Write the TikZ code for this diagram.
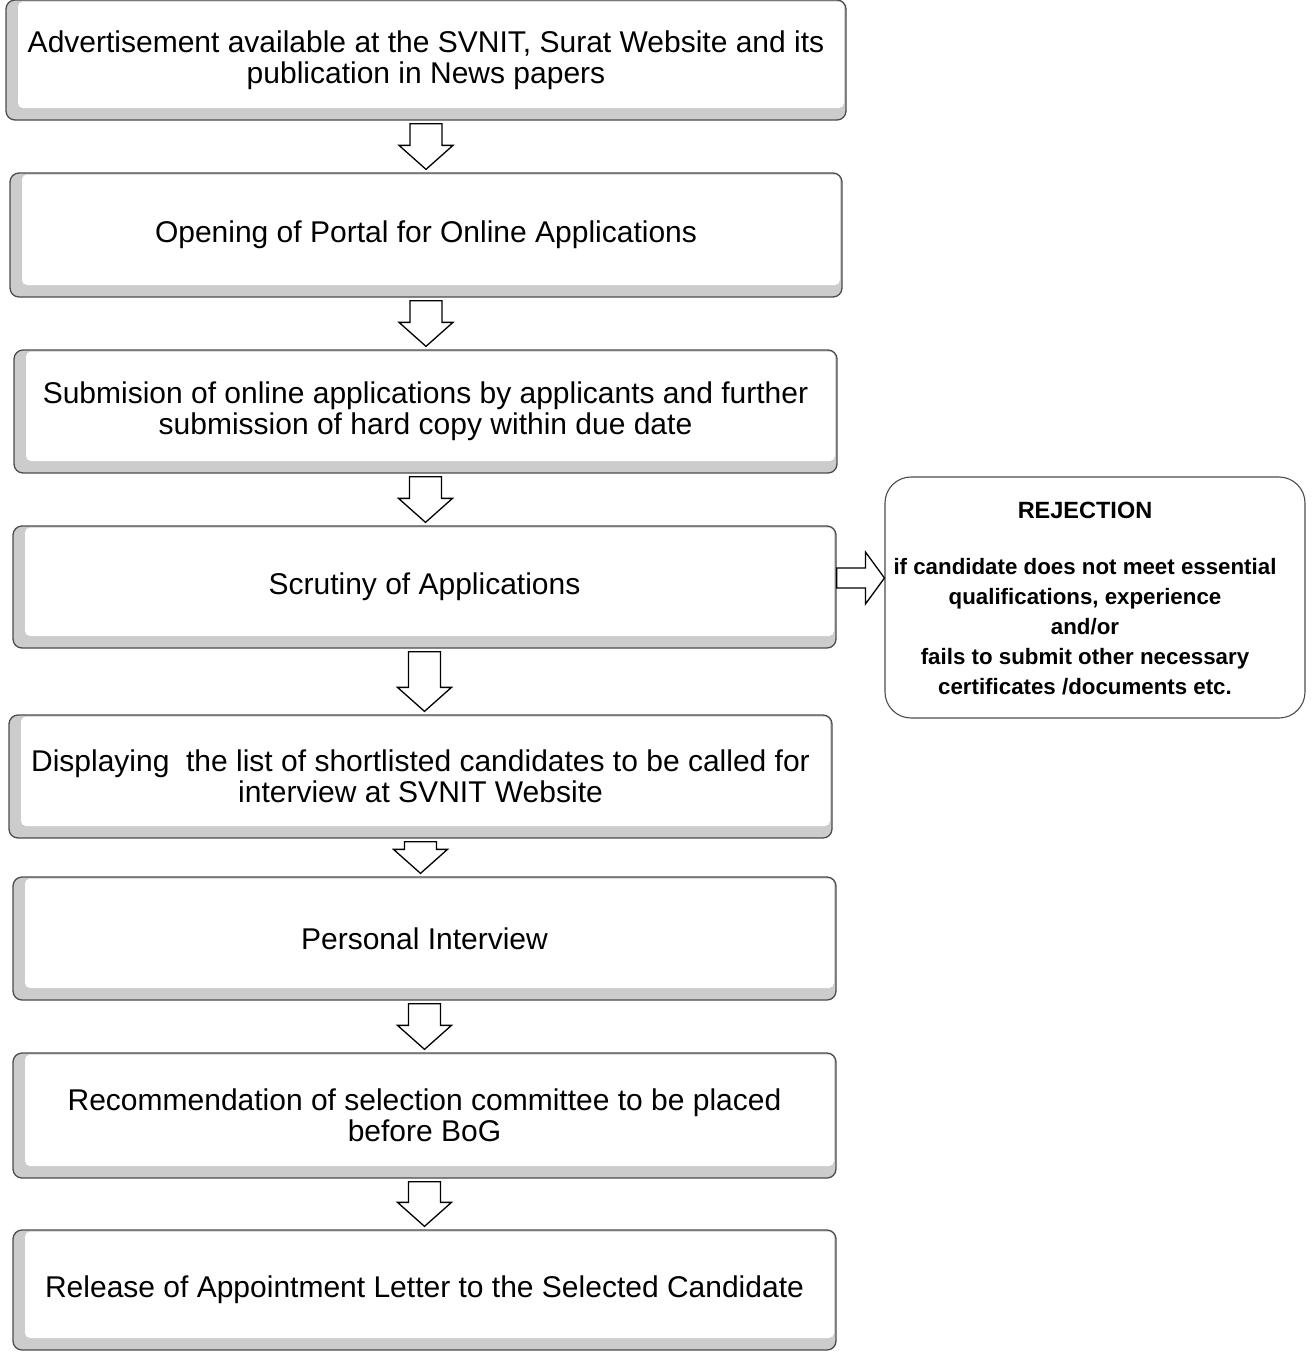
\documentclass[tikz,border=0pt]{standalone}
\usepackage{fontspec}
\setmainfont{Liberation Sans}
\usetikzlibrary{calc}
\tikzset{
  stepbox/.style={draw=black!70, line width=1.3pt, rounded corners=9pt, fill=black!20,
    minimum width=#1, inner sep=0pt, align=center,
    font=\fontsize{30}{31}\selectfont,
    path picture={
      \fill[white, rounded corners=5pt]
        ([xshift=12pt,yshift=12pt]path picture bounding box.south west)
        rectangle ([xshift=-2pt,yshift=-1.5pt]path picture bounding box.north east);
    }},
  rejframe/.style={draw=black!70, line width=1.1pt, rounded corners=26pt, fill=white,
    minimum width=420pt, minimum height=241pt, inner sep=0pt},
  rejtext/.style={align=center, inner sep=0pt,
    font=\bfseries\fontsize{22.3}{30}\selectfont},
  barrow/.style={draw=black, line width=1.3pt, fill=white, line join=miter},
}
\newcommand\blockdown[2]{%
  \draw[barrow] let \p1=(#1.south), \p2=(#2.north) in
    (\x1-16pt,\y1-3pt) -- (\x1+16pt,\y1-3pt) -- (\x1+16pt,\y2+27pt) -- (\x1+27pt,\y2+27pt)
    -- (\x1,\y2+3pt) -- (\x1-27pt,\y2+27pt) -- (\x1-16pt,\y2+27pt) -- cycle;}
\begin{document}
\begin{tikzpicture}[x=1pt,y=-1pt]
\useasboundingbox[fill=white] (0,0) rectangle (1316,1353);
\node[stepbox=840pt, minimum height=120pt] (b1) at (426,60)
  {Advertisement available at the SVNIT, Surat Website and its\\publication in News papers};
\node[stepbox=832pt, minimum height=124pt] (b2) at (426,235)
  {Opening of Portal for Online Applications};
\node[stepbox=823pt, minimum height=123pt] (b3) at (425.5,411.5)
  {Submision of online applications by applicants and further\\submission of hard copy within due date};
\node[stepbox=823pt, minimum height=122pt] (b4) at (424.5,587)
  {Scrutiny of Applications};
\node[stepbox=823pt, minimum height=123pt] (b5) at (420.5,776.5)
  {Displaying\ \ the list of shortlisted candidates to be called for\\interview at SVNIT Website};
\node[stepbox=823pt, minimum height=123pt] (b6) at (424.5,938.5)
  {Personal Interview};
\node[stepbox=823pt, minimum height=125pt] (b7) at (424.5,1115.5)
  {Recommendation of selection committee to be placed\\before BoG};
\node[stepbox=823pt, minimum height=120pt] (b8) at (424.5,1290)
  {Release of Appointment Letter to the Selected Candidate};
\node[rejframe] (rej) at (1095,597.5) {};
\node[rejtext] (rejt) at (1085,599)
  {{\fontsize{23.5}{30}\selectfont REJECTION}\\[26pt]
   if candidate does not meet essential\\
   qualifications, experience\\
   and/or\\
   fails to submit other necessary\\
   certificates /documents etc.};
\blockdown{b1}{b2}
\blockdown{b2}{b3}
\blockdown{b3}{b4}
\blockdown{b4}{b5}
\blockdown{b5}{b6}
\blockdown{b6}{b7}
\blockdown{b7}{b8}
\draw[barrow] let \p1=(b4.east), \p2=(rej.west) in
  (\x1,\y1+19pt) -- (\x2-19pt,\y1+19pt) -- (\x2-19pt,\y1+35pt) -- (\x2,\y1+9pt)
  -- (\x2-19pt,\y1-17pt) -- (\x2-19pt,\y1-1pt) -- (\x1,\y1-1pt) -- cycle;
\end{tikzpicture}
\end{document}
